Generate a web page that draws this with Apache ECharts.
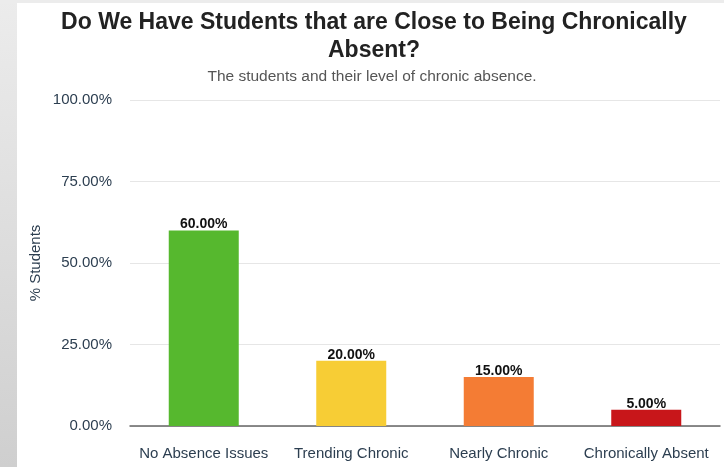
<!DOCTYPE html>
<html><head><meta charset="utf-8">
<script src="https://cdn.jsdelivr.net/npm/echarts@6/dist/echarts.min.js"></script>
<style>html,body{margin:0;padding:0;background:#fff}#c{width:724px;height:467px}</style>
</head><body><div id="c"></div>
<script>
const categories = ['No Absence Issues', 'Trending Chronic', 'Nearly Chronic', 'Chronically Absent'];
const values = [60, 20, 15, 5];
const barColors = ['#56b82e', '#f7cd35', '#f47c34', '#c8161a'];
const yTicks = [0, 25, 50, 75, 100];

const chart = echarts.init(document.getElementById('c'));
chart.setOption({
  animation: false,
  backgroundColor: '#fff',
  textStyle: { fontFamily: 'Liberation Sans, Arial, sans-serif' },
  graphic: [
    { type: 'rect', left: 0, top: 0, shape: { width: 17, height: 467 }, style: { fill: new echarts.graphic.LinearGradient(0, 0, 0, 1, [{ offset: 0, color: '#ececec' }, { offset: 1, color: '#cfcfcf' }]) }, z: -1 },
    { type: 'rect', left: 0, top: 0, shape: { width: 724, height: 3 }, style: { fill: '#ececec' }, z: -1 }
  ],
  title: [
    { text: 'Do We Have Students that are Close to Being Chronically\nAbsent?', left: 369, top: 4, textAlign: 'center',
      textStyle: { fontSize: 23, fontWeight: 'bold', color: '#222', lineHeight: 28, fontFamily: 'Liberation Sans, Arial, sans-serif' } },
    { text: 'The students and their level of chronic absence.', left: 367, top: 64, textAlign: 'center',
      textStyle: { fontSize: 15.5, fontWeight: 'normal', color: '#555', fontFamily: 'Liberation Sans, Arial, sans-serif' } }
  ],
  grid: { left: 130, right: 4, top: 100, bottom: 41 },
  xAxis: {
    type: 'category', data: categories,
    axisLine: { lineStyle: { color: '#666', width: 1.5 } },
    axisTick: { show: false },
    axisLabel: { color: '#2c3e50', fontSize: 15, margin: 20, interval: 0 }
  },
  yAxis: {
    type: 'value', min: 0, max: 100, interval: 25,
    name: '% Students', nameLocation: 'middle', nameGap: 87, nameRotate: 90, nameMoveOverlap: false,
    nameTextStyle: { color: '#2c3e50', fontSize: 15 },
    axisLine: { show: false }, axisTick: { show: false },
    axisLabel: { color: '#2c3e50', fontSize: 15, margin: 18, formatter: v => yTicks.includes(v) ? v.toFixed(2) + '%' : '' },
    splitLine: { lineStyle: { color: '#e6e6e6' } }
  },
  series: [{
    type: 'bar', barWidth: 70,
    data: values.map((v, i) => ({ value: v, itemStyle: { color: barColors[i] } })),
    label: { show: true, position: 'top', distance: -1, color: '#111', fontWeight: 'bold', fontSize: 14, formatter: p => p.value.toFixed(2) + '%' }
  }]
});
</script></body></html>
